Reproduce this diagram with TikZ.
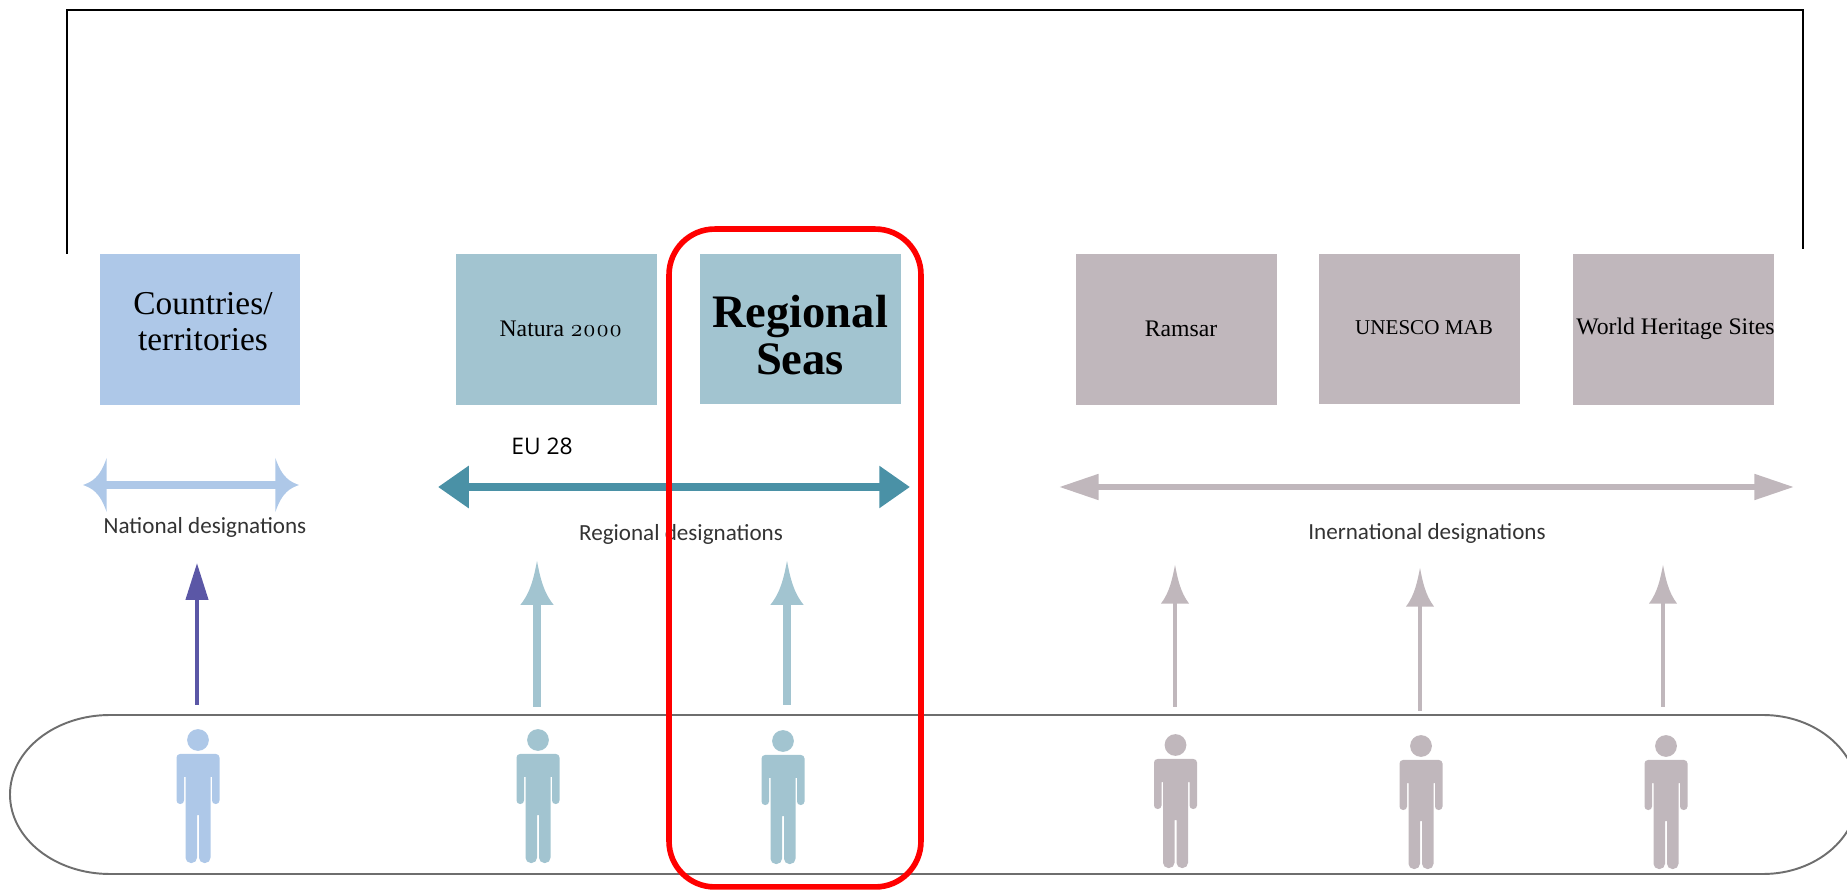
\documentclass[tikz,border=0pt]{standalone}
\usepackage{fontspec}
\setmainfont{Liberation Serif}
\newfontfamily\oldfigs[Numbers=OldStyle]{Latin Modern Roman}
\newfontfamily\labelfont{Carlito}
\newfontfamily\eufont{Open Sans}
\usepackage{xcolor}
\usepackage{tikz}
\usetikzlibrary{arrows.meta}
\definecolor{countryblue}{HTML}{AEC8E8}
\definecolor{seateal}{HTML}{A2C4D0}
\definecolor{worldgrey}{HTML}{C0B7BC}
\definecolor{euteal}{HTML}{4A91A6}
\definecolor{nationpurple}{HTML}{5B57A6}
\definecolor{pillgrey}{HTML}{6E6E6E}
\pgfdeclarearrow{
	name=Flare,
	setup code={
		\pgfarrowssettipend{\pgfarrowlength}
		\pgfarrowssetlineend{0.1\pgfarrowlength}
		\pgfarrowssetvisualbackend{0pt}
		\pgfarrowssetbackend{0pt}
		\pgfarrowshullpoint{\pgfarrowlength}{0pt}
		\pgfarrowsupperhullpoint{0pt}{0.5\pgfarrowwidth}
		\pgfarrowssavethe\pgfarrowlength
		\pgfarrowssavethe\pgfarrowwidth
		\pgfarrowssavethe\pgfarrowinset
	},
	drawing code={
		\pgfpathmoveto{\pgfqpoint{\pgfarrowlength}{0pt}}
		\pgfpathcurveto{\pgfqpoint{0.65\pgfarrowlength}{\pgfarrowinset}}{\pgfqpoint{0.3\pgfarrowlength}{2\pgfarrowinset}}{\pgfqpoint{0pt}{0.5\pgfarrowwidth}}
		\pgfpathlineto{\pgfqpoint{0pt}{-0.5\pgfarrowwidth}}
		\pgfpathcurveto{\pgfqpoint{0.3\pgfarrowlength}{-2\pgfarrowinset}}{\pgfqpoint{0.65\pgfarrowlength}{-\pgfarrowinset}}{\pgfqpoint{\pgfarrowlength}{0pt}}
		\pgfpathclose
		\pgfusepathqfill
	},
	parameters={\the\pgfarrowlength,\the\pgfarrowwidth,\the\pgfarrowinset},
}
\tikzset{
	person/.pic={
		\fill[pic actions] (0,0) circle (6.2pt);
		\path[pic actions, rounded corners=2pt] (-21.5,14) -- (21.5,14) -- (21.5,64) -- (14,64) [sharp corners] -- (14,37) -- (12.5,37) [rounded corners=3pt] -- (12.5,123) -- (1,123) [sharp corners] -- (1,75) -- (-1,75) [rounded corners=3pt] -- (-1,123) -- (-12.5,123) [sharp corners] -- (-12.5,37) -- (-14,37) [rounded corners=2pt] -- (-14,64) -- (-21.5,64) -- cycle;
	}
}
\begin{document}
\begin{tikzpicture}[x=0.02cm, y=-0.02cm,
	sitebox/.style={rectangle, minimum width=4.02cm, minimum height=3.02cm, inner sep=0pt},
	sitetext/.style={align=center, font=\fontsize{13.5}{15}\selectfont},
	desig/.style={font=\labelfont\fontsize{13.15}{15}\selectfont, text=black!80},
	rangearrow/.style={line width=4.5pt},
	riseblue/.style={line width=2.4pt, -{Triangle[length=21pt, width=12.5pt]}},
	riseteal/.style={seateal, line width=5pt, -{Flare[length=25pt, width=19pt, inset=1.7pt]}},
	risegrey/.style={worldgrey, line width=2.4pt, -{Flare[length=22pt, width=16pt, inset=1.5pt]}}]
	\useasboundingbox (0,0) rectangle (1847,891);
	% frame on top
	\coordinate (frameL) at (67,254);
	\coordinate (frameR) at (1803,249);
	\draw[line width=0.8pt] (frameL) |- (1803,10) -- (frameR);
	% boxes
	\node[sitebox, fill=countryblue] (countries) at (200,329.5) {};
	\node[sitebox, fill=seateal] (natura) at (556.5,329.5) {};
	\node[sitebox, fill=seateal] (seas) at (800.5,329) {};
	\node[sitebox, fill=worldgrey] (ramsar) at (1176.5,329.5) {};
	\node[sitebox, fill=worldgrey] (unesco) at (1419.5,329) {};
	\node[sitebox, fill=worldgrey] (heritage) at (1673.5,329.5) {};
	% texts of the boxes
	\node[sitetext, font=\fontsize{19}{20.5}\selectfont] (countriestext) at (203,322) {Countries/\\territories};
	\node[sitetext] (naturatext) at (561,329) {Natura {\oldfigs\fontsize{13.5}{15}\selectfont 2000}};
	\node[sitetext, font=\fontsize{26.5}{26.5}\selectfont\bfseries] (seastext) at (800,335) {Regional\\Seas};
	\node[sitetext] (ramsartext) at (1181,329) {Ramsar};
	\node[sitetext, font=\fontsize{12}{15}\selectfont] (unescotext) at (1424,328) {UNESCO MAB};
	\node[sitetext] (heritagetext) at (1675.5,329) {World Heritage Sites};
	% designations
	\node[font=\eufont\fontsize{13}{15}\selectfont] (eu) at (542,446) {EU 28};
	\node[desig] (national) at (205,527) {National designations};
	\node[desig] (regional) at (681,534) {Regional designations};
	\node[desig] (international) at (1427,533) {Inernational designations};
	% range arrows
	\coordinate (natL) at (83,485);
	\coordinate (natR) at (299,485);
	\coordinate (regL) at (438,487);
	\coordinate (regR) at (910,487);
	\coordinate (intL) at (1059,487);
	\coordinate (intR) at (1794,487);
	\draw[rangearrow, countryblue, {Flare[length=13.5pt, width=31pt, inset=1.8pt]}-{Flare[length=13.5pt, width=31pt, inset=1.8pt]}] (natL) -- (natR);
	\draw[rangearrow, euteal, {Triangle[length=17.5pt, width=23pt]}-{Triangle[length=17.5pt, width=23pt]}] (regL) -- (regR);
	\draw[worldgrey, line width=3.4pt, {Triangle[length=22.5pt, width=14pt]}-{Triangle[length=22.5pt, width=14pt]}] (intL) -- (intR);
	% pill
	\draw[pillgrey, line width=1.1pt] (110,715) -- (1763,715) arc (90:-90:95 and -79.5) -- (110,874) arc (270:90:100 and -79.5);
	% persons
	\pic[fill=countryblue] (p1) at (198,740) {person};
	\pic[fill=seateal] (p2) at (538,740) {person};
	\pic[fill=seateal] (p3) at (783,741) {person};
	\pic[fill=worldgrey] (p4) at (1175.5,745) {person};
	\pic[fill=worldgrey] (p5) at (1421,746) {person};
	\pic[fill=worldgrey] (p6) at (1666,746) {person};
	% arrows going up
	\coordinate (a1) at (197,705);
	\coordinate (b1) at (197,563);
	\coordinate (a2) at (537,707);
	\coordinate (b2) at (537,561);
	\coordinate (a3) at (787,705);
	\coordinate (b3) at (787,561);
	\coordinate (a4) at (1175,707);
	\coordinate (b4) at (1175,565);
	\coordinate (a5) at (1420,711);
	\coordinate (b5) at (1420,568);
	\coordinate (a6) at (1663,707);
	\coordinate (b6) at (1663,565);
	\draw[riseblue, nationpurple] (a1) -- (b1);
	\draw[riseteal] (a2) -- (b2);
	\draw[riseteal] (a3) -- (b3);
	\draw[risegrey] (a4) -- (b4);
	\draw[risegrey] (a5) -- (b5);
	\draw[risegrey] (a6) -- (b6);
	% red frame
	\node[draw=red, line width=3.2pt, rounded corners=26pt, minimum width=5.04cm, minimum height=13.16cm, inner sep=0pt] (focus) at (795,558) {};
\end{tikzpicture}
\end{document}
